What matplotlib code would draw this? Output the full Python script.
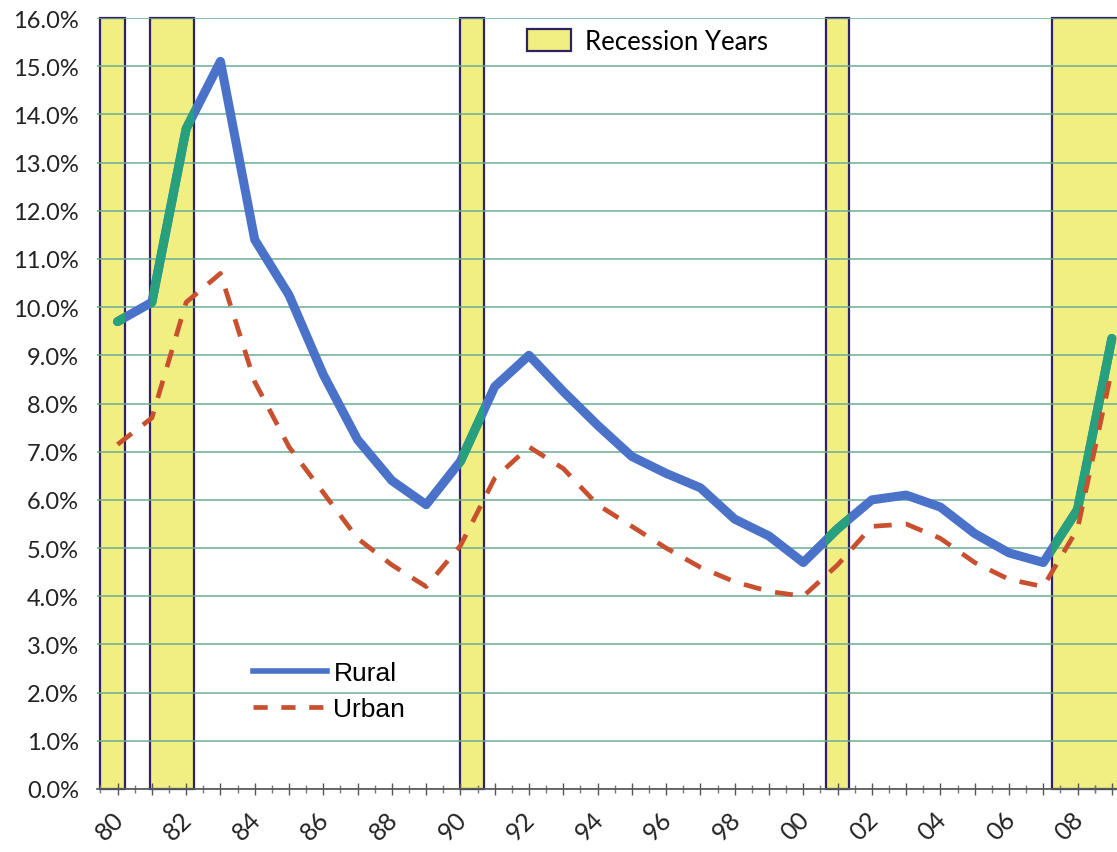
import matplotlib
matplotlib.use("Agg")
import matplotlib.pyplot as plt
import matplotlib.transforms as mtransforms
from matplotlib.patches import Patch
from matplotlib.lines import Line2D

# annual unemployment rates (%), plotted at mid-year
years = list(range(1980, 2010))
rural = [9.7, 10.1, 13.7, 15.1, 11.4, 10.25, 8.6, 7.25, 6.4, 5.9,
         6.8, 8.35, 9.0, 8.25, 7.55, 6.9, 6.55, 6.25, 5.6, 5.25,
         4.7, 5.4, 6.0, 6.1, 5.85, 5.3, 4.9, 4.7, 5.8, 9.35]
urban = [7.15, 7.7, 10.1, 10.7, 8.45, 7.1, 6.15, 5.2, 4.65, 4.2,
         5.05, 6.45, 7.1, 6.65, 5.9, 5.45, 5.0, 4.6, 4.3, 4.1,
         4.0, 4.65, 5.45, 5.5, 5.2, 4.7, 4.35, 4.2, 5.4, 8.7]

# recession periods (fractional years)
rec_start = [1980.0, 1981.45, 1990.5, 2001.17, 2007.75]
rec_end = [1980.72, 1982.72, 1991.2, 2001.82, 2010.5]

yticks = [i * 1.0 for i in range(17)]
tick_years = list(range(1980, 2010, 2))

FONT = "Lato"
xs = [y + 0.5 for y in years]

fig = plt.figure(figsize=(11.17, 8.53), dpi=100)
ax = fig.add_axes([97 / 1117, 63 / 853, 1 - 97 / 1117, (790 - 19) / 853])

spans = []
for s, e in zip(rec_start, rec_end):
    sp = ax.axvspan(s, e, facecolor="#f1ee82", edgecolor="#2e2360", lw=1.6, zorder=0.3, clip_on=False)
    spans.append(sp)

ax.plot(xs, rural, color="#4a72c8", lw=6.5, solid_joinstyle="round", solid_capstyle="round", zorder=3)
for sp in spans:
    g, = ax.plot(xs, rural, color="#27a07e", lw=6.5, solid_joinstyle="round", solid_capstyle="round", zorder=3.5)
    g.set_clip_path(sp)
ax.plot(xs, urban, color="#c8502f", lw=3.4, linestyle=(0, (3.8, 3.0)), zorder=4)

ax.set_xlim(1979.9, 2009.65)
ax.set_ylim(0, 16)
ax.set_axisbelow(True)
ax.yaxis.grid(True, color="#6aae94", lw=1.1)
ax.set_yticks(yticks)
ax.set_yticklabels(["%.1f%%" % v for v in yticks], fontsize=17, family=FONT, color="#222222")
ax.tick_params(axis="y", length=0, pad=13)

ax.set_xticks([y + 0.5 for y in years])
ax.set_xticks([y for y in years] + [2009.0], minor=True)
ax.set_xticklabels([("%02d" % (y % 100)) if y in tick_years else "" for y in years],
                   fontsize=18, family=FONT, rotation=45, ha="right", rotation_mode="anchor", color="#222222")
ax.tick_params(axis="x", which="major", direction="inout", length=8, width=1, color="#555555", pad=9)
ax.tick_params(axis="x", which="minor", direction="inout", length=6, width=1, color="#777777")
shift = mtransforms.ScaledTranslation(-6 / 100, 0, fig.dpi_scale_trans)
for lab in ax.get_xticklabels():
    lab.set_transform(lab.get_transform() + shift)

for side in ["top", "left", "right"]:
    ax.spines[side].set_visible(False)
ax.spines["bottom"].set_color("#555555")
ax.spines["bottom"].set_linewidth(1.2)

leg1 = fig.legend(handles=[Patch(facecolor="#f1ee82", edgecolor="#2e2360", lw=1.6, label="Recession Years")],
                  loc="upper left", bbox_to_anchor=(527 / 1117, 1 - 30 / 853), frameon=False,
                  prop={"family": FONT, "size": 18.5}, handlelength=1.7, handleheight=0.95,
                  handletextpad=0.55, borderpad=0, borderaxespad=0)

leg2 = fig.legend(handles=[Line2D([], [], color="#4a72c8", lw=4, label="Rural"),
                           Line2D([], [], color="#c8502f", lw=3.4, linestyle=(0, (3.0, 2.9)), label="Urban")],
                  loc="upper left", bbox_to_anchor=(253 / 1117, 1 - 662 / 853), frameon=False,
                  prop={"family": "Liberation Sans", "size": 19}, handlelength=2.8,
                  handletextpad=0.25, labelspacing=0.45, borderpad=0, borderaxespad=0)

fig.savefig("out.png", dpi=100)
